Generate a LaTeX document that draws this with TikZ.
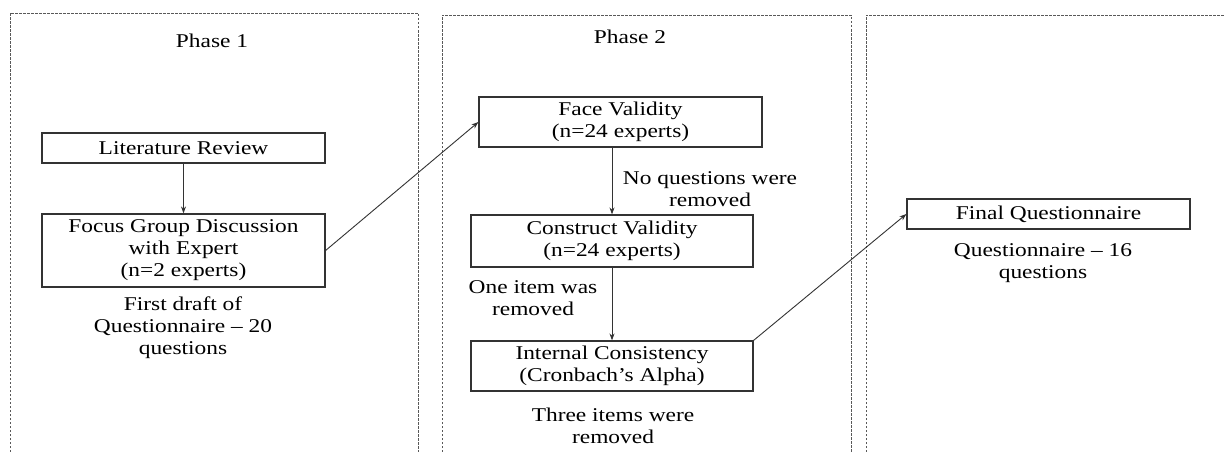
\documentclass[tikz,border=0pt]{standalone}
\usepackage{fontspec}
\setmainfont{Liberation Serif}[FakeStretch=1.2]
\usetikzlibrary{arrows.meta}
\begin{document}
\begin{tikzpicture}[x=1pt,y=-1pt,
  every node/.style={font=\fontsize{19.5}{22}\selectfont, text=black, inner sep=0pt},
  stepbox/.style={draw=black!80, line width=1.2pt, fill=white, align=center, minimum width=283pt},
  caption/.style={align=center},
  conn/.style={draw=black!80, line width=0.9pt, -{Stealth[length=7pt,width=5pt]}},
  panel/.style={draw=black!65, line width=0.8pt, dash pattern=on 2.5pt off 1.5pt}]
\useasboundingbox (0,0) rectangle (1225,452);
\fill[white] (0,0) rectangle (1225,452);
% panels
\draw[panel] (10,452) -- (10,13) -- (418,13) -- (418,452);
\draw[panel] (442,452) -- (442,15) -- (851,15) -- (851,452);
\draw[panel] (866,452) -- (866,15) -- (1225,15);
% titles
\node (p1) at (212,41) {Phase 1};
\node (p2) at (630,37) {Phase 2};
% boxes
\node[stepbox, minimum height=30pt] (lr) at (183.5,148) {Literature Review};
\node[stepbox, minimum height=73pt] (fg) at (183.5,250.5) {Focus Group Discussion\\with Expert\\(n=2 experts)};
\node[stepbox, minimum height=50pt] (fv) at (620.5,122) {Face Validity\\(n=24 experts)};
\node[stepbox, minimum width=282pt, minimum height=52pt] (cv) at (612,241) {Construct Validity\\(n=24 experts)};
\node[stepbox, minimum width=282pt, minimum height=50pt] (ic) at (612,366) {Internal Consistency\\(Cronbach’s Alpha)};
\node[stepbox, minimum height=30pt] (fq) at (1048.5,214) {Final Questionnaire};
% captions
\node[caption] (c1) at (183,328) {First draft of\\Questionnaire – 20\\questions};
\node[caption] (c2) at (710,189) {No questions were\\removed};
\node[caption] (c3) at (533,298) {One item was\\removed};
\node[caption] (c4) at (613,426) {Three items were\\removed};
\node[caption] (c5) at (1043,263) {Questionnaire – 16\\questions};
% connectors
\draw[conn] (lr.south) -- (fg.north);
\draw[conn] (fg.east) -- (fv.west);
\draw[conn] (cv.north |- fv.south) -- (cv.north);
\draw[conn] (cv.south) -- (ic.north);
\draw[conn] (ic.north east) -- (fq.west);
\end{tikzpicture}
\end{document}
